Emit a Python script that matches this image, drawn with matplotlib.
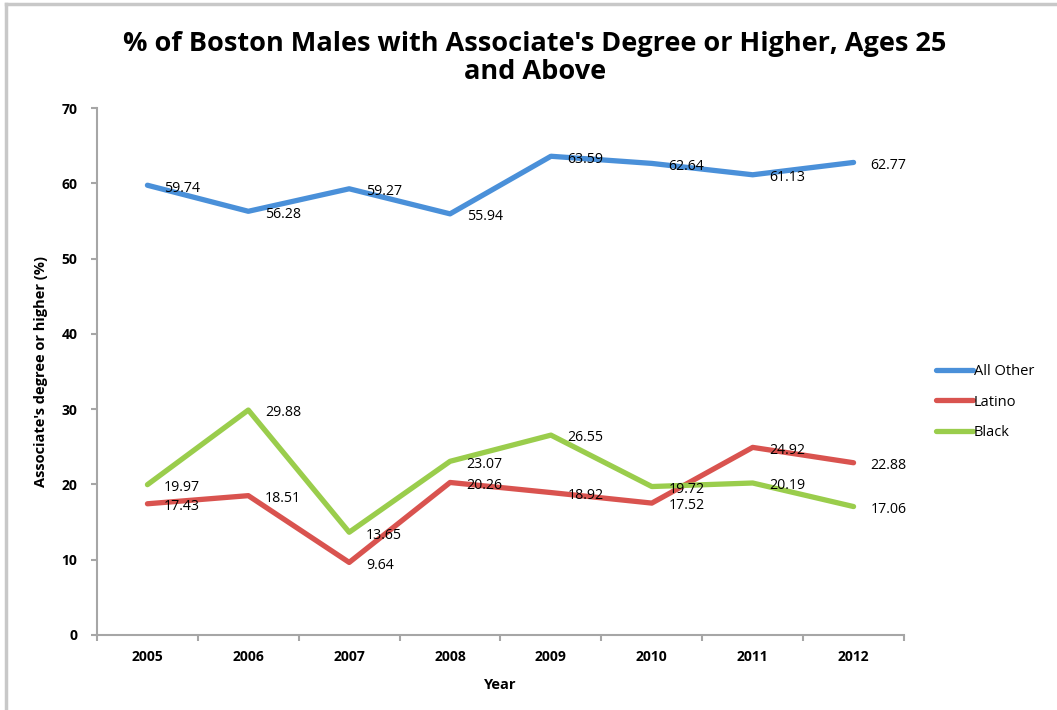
import matplotlib
matplotlib.use('Agg')
import matplotlib.pyplot as plt
from matplotlib.lines import Line2D

years = ['2005', '2006', '2007', '2008', '2009', '2010', '2011', '2012']
all_other = [59.74, 56.28, 59.27, 55.94, 63.59, 62.64, 61.13, 62.77]
latino = [17.43, 18.51, 9.64, 20.26, 18.92, 17.52, 24.92, 22.88]
black = [19.97, 29.88, 13.65, 23.07, 26.55, 19.72, 20.19, 17.06]

series_names = ['All Other', 'Latino', 'Black']
series_colors = ['#4a90d9', '#d9534f', '#9acd4c']

plt.rcParams['font.family'] = ['Open Sans', 'DejaVu Sans']

fig = plt.figure(figsize=(10.57, 7.1), dpi=100)
ax = fig.add_axes([97 / 1057, 1 - 635 / 710, (904 - 97) / 1057, (635 - 108) / 710])

# chart frame (only top and left edges are visible)
fig.add_artist(Line2D([6 / 1057, 6 / 1057], [0, 1 - 4 / 710], transform=fig.transFigure,
                      color='#c8c8c8', lw=2.5))
fig.add_artist(Line2D([6 / 1057, 1], [1 - 4 / 710, 1 - 4 / 710], transform=fig.transFigure,
                      color='#c8c8c8', lw=2.5))

x = list(range(len(years)))
for vals, name, col in zip([all_other, latino, black], series_names, series_colors):
    ax.plot(x, vals, color=col, lw=3.8, label=name,
            solid_capstyle='round', solid_joinstyle='round')
    for xi, v in zip(x, vals):
        ax.annotate(f'{v:.2f}', (xi, v), xytext=(12, -2), textcoords='offset points',
                    ha='left', va='center', fontsize=10.2, color='black')

ax.set_xlim(-0.5, len(years) - 0.5)
ax.set_ylim(0, 70)
ax.set_yticks(range(0, 71, 10))
ax.set_xticks([i - 0.5 for i in range(len(years) + 1)])
ax.set_xticklabels([])
ax.set_xticks(x, minor=True)
ax.set_xticklabels(years, minor=True, fontsize=10, fontweight='bold')
ax.tick_params(axis='x', which='minor', length=0, pad=11)
ax.tick_params(axis='x', which='major', length=4, width=1.5, color='#a6a6a6')
ax.tick_params(axis='y', length=4, width=1.5, color='#a6a6a6', pad=10, labelsize=10)
for lbl in ax.get_yticklabels():
    lbl.set_fontweight('bold')

for s in ['top', 'right']:
    ax.spines[s].set_visible(False)
for s in ['left', 'bottom']:
    ax.spines[s].set_color('#a6a6a6')
    ax.spines[s].set_linewidth(1.5)

ax.set_xlabel('Year', fontsize=10.5, fontweight='bold', labelpad=10)
ax.set_ylabel("Associate's degree or higher (%)", fontsize=10.5, fontweight='bold', labelpad=10)

fig.text(535 / 1057, 1 - 58 / 710,
         "% of Boston Males with Associate's Degree or Higher, Ages 25\nand Above",
         ha='center', va='center', fontsize=19.5, fontweight='bold', linespacing=1.12)

ax.legend(loc='center left', bbox_to_anchor=(923 / 1057, 1 - 402 / 710),
          bbox_transform=fig.transFigure, frameon=False, fontsize=10.5,
          handlelength=2.5, handletextpad=0.1, labelspacing=1.05)

fig.savefig('out.png', dpi=100, facecolor='white')
